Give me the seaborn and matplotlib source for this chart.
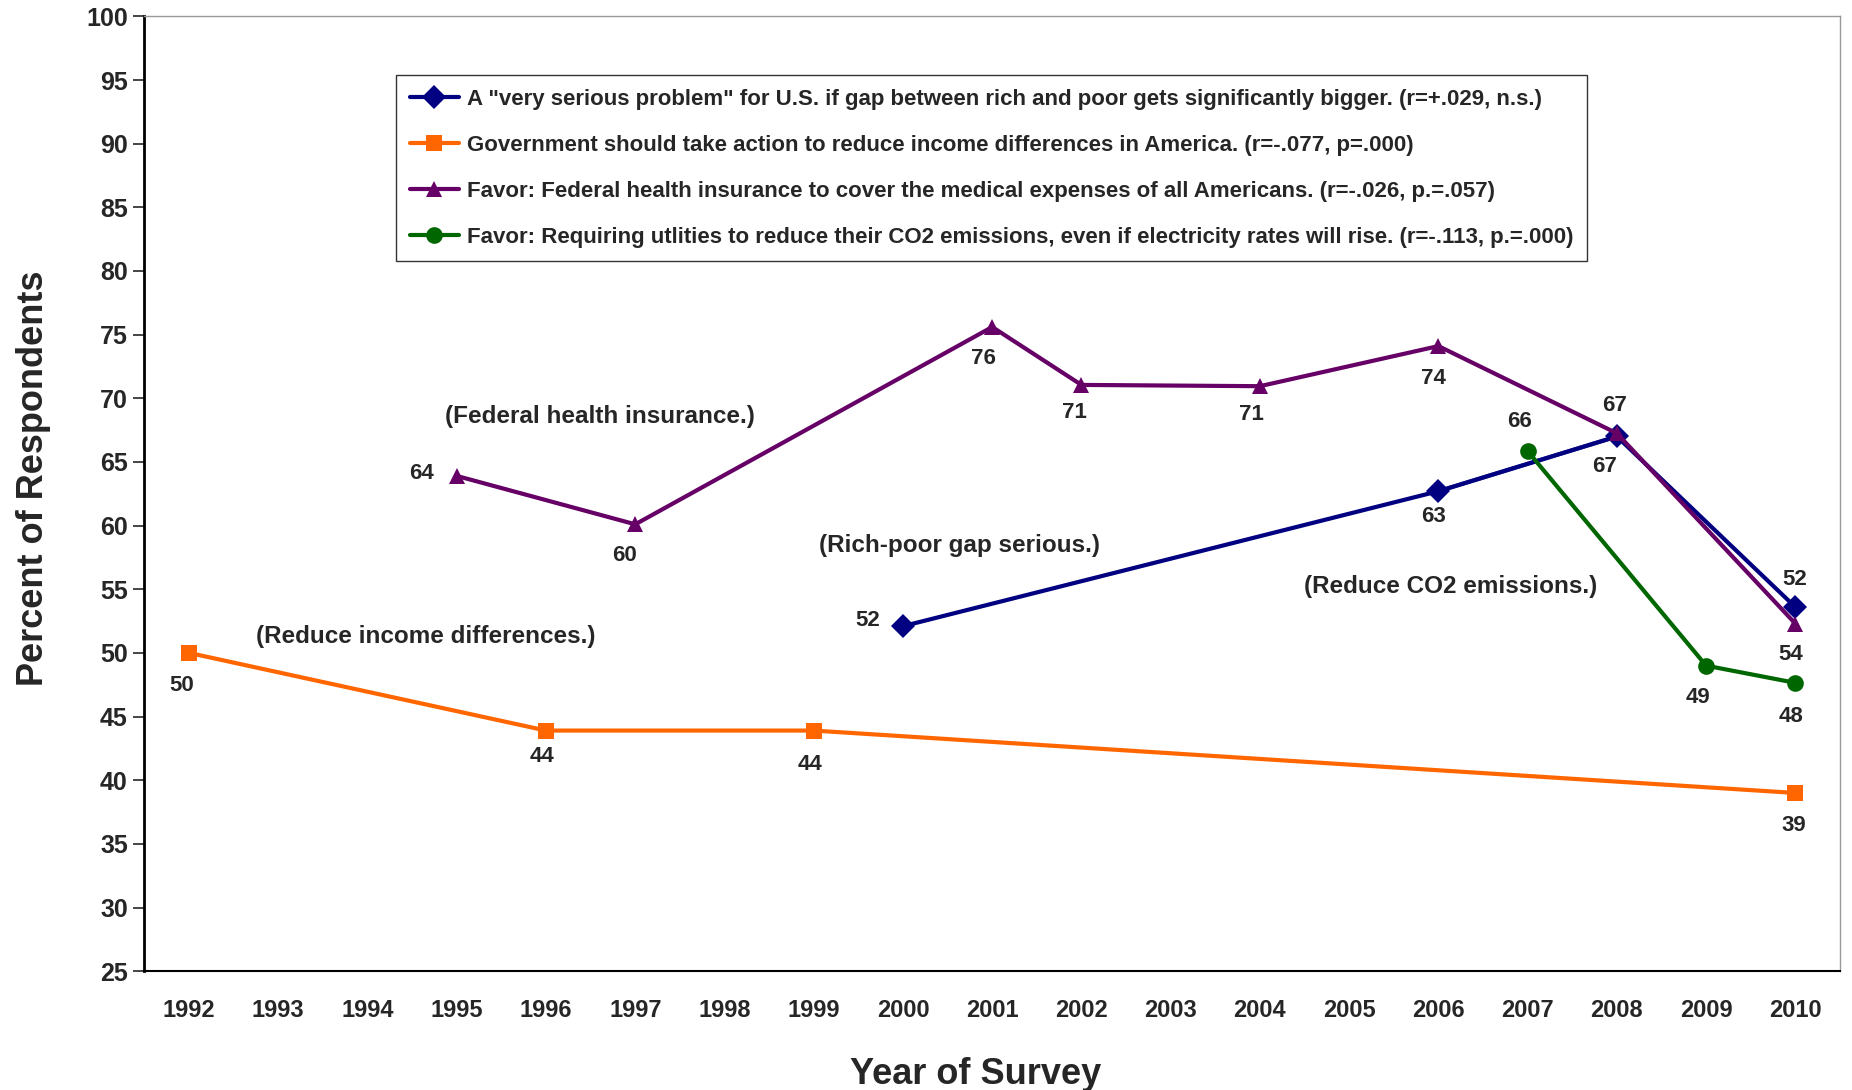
import matplotlib
matplotlib.use("Agg")
import matplotlib.pyplot as plt
import pandas as pd
import seaborn as sns

# Survey data
years = list(range(1992, 2011))

gap_years = [2000, 2006, 2008, 2010]
gap_values = [52.1, 62.7, 67.0, 53.6]
gap_labels = ["52", "63", "67", "52"]

income_years = [1992, 1996, 1999, 2010]
income_values = [50.0, 43.9, 43.9, 39.0]
income_labels = ["50", "44", "44", "39"]

health_years = [1995, 1997, 2001, 2002, 2004, 2006, 2008, 2010]
health_values = [63.9, 60.1, 75.6, 71.05, 70.95, 74.1, 67.25, 52.3]
health_labels = ["64", "60", "76", "71", "71", "74", "67", "54"]

co2_years = [2007, 2009, 2010]
co2_values = [65.85, 49.0, 47.65]
co2_labels = ["66", "49", "48"]

series_names = [
    'A "very serious problem" for U.S. if gap between rich and poor gets significantly bigger. (r=+.029, n.s.)',
    'Government should take action to reduce income differences in America. (r=-.077, p=.000)',
    'Favor: Federal health insurance to cover the medical expenses of all Americans. (r=-.026, p.=.057)',
    'Favor: Requiring utlities to reduce their CO2 emissions, even if electricity rates will rise. (r=-.113, p.=.000)',
]
colors = ["#000080", "#FF6600", "#660066", "#006600"]
markers = ["D", "s", "^", "o"]

frames = []
for name, xs, ys in zip(series_names,
                        [gap_years, income_years, health_years, co2_years],
                        [gap_values, income_values, health_values, co2_values]):
    frames.append(pd.DataFrame({"year": xs, "value": ys, "series": name}))
df = pd.concat(frames, ignore_index=True)

sns.set_style("white")
plt.rcParams["font.family"] = ["Liberation Sans", "DejaVu Sans"]
plt.rcParams["font.weight"] = "bold"

fig, ax = plt.subplots(figsize=(18.52, 10.90), dpi=100)
fig.subplots_adjust(left=0.078, right=0.9935, top=0.985, bottom=0.109)

sns.lineplot(data=df, x="year", y="value", hue="series", style="series",
             hue_order=series_names, style_order=series_names,
             palette=dict(zip(series_names, colors)),
             markers=dict(zip(series_names, markers)), dashes=False,
             linewidth=3, markersize=12, markeredgewidth=0, ax=ax)

# lighter segment of the rich-poor line between 2006 and 2008
seg = df[(df["series"] == series_names[0]) & (df["year"].isin([2006, 2008]))]
sns.lineplot(data=seg, x="year", y="value", color="#3a3a9e", linewidth=3,
             legend=False, ax=ax, zorder=1.5)

# value labels (offsets in pixels)
label_sets = [
    (gap_years, gap_values, gap_labels, [(-35, 6), (-5, -25), (-12, -30), (-1, 28)]),
    (income_years, income_values, income_labels, [(-7, -33), (-4, -26), (-4, -34), (-2, -33)]),
    (health_years, health_values, health_labels,
     [(-35, 2), (-11, -31), (-9, -32), (-7, -28), (-8, -28), (-5, -32), (-2, 28), (-5, -31)]),
    (co2_years, co2_values, co2_labels, [(-8, 30), (-8, -32), (-4, -34)]),
]
for xs, ys, labs, offs in label_sets:
    for x, y, lab, off in zip(xs, ys, labs, offs):
        ax.annotate(lab, (x, y), xytext=off, textcoords="offset pixels",
                    ha="center", va="center", fontsize=16, fontweight="bold")

# series captions
cap = dict(fontsize=17.5, fontweight="bold", va="center")
ax.text(1994.87, 68.6, "(Federal health insurance.)", **cap)
ax.text(1999.06, 58.4, "(Rich-poor gap serious.)", **cap)
ax.text(2004.49, 55.2, "(Reduce CO2 emissions.)", **cap)
ax.text(1992.75, 51.3, "(Reduce income differences.)", **cap)

ax.set_xlim(1991.5, 2010.5)
ax.set_ylim(25, 100)
ax.set_xticks(years)
ax.set_xticklabels([str(y) for y in years])
ax.set_yticks(range(25, 101, 5))
ax.tick_params(axis="x", length=0, pad=20, labelsize=17)
ax.tick_params(axis="y", direction="out", length=8, width=1.2, pad=4, labelsize=18, left=True)
for lab in ax.get_xticklabels() + ax.get_yticklabels():
    lab.set_fontweight("bold")

ax.set_xlabel("Year of Survey", fontsize=26, fontweight="bold")
ax.xaxis.set_label_coords(0.49, -0.09)
ax.set_ylabel("Percent of Respondents", fontsize=26, fontweight="bold")
ax.yaxis.set_label_coords(-0.055, 0.516)

for side in ["top", "right"]:
    ax.spines[side].set_color("#999999")
    ax.spines[side].set_linewidth(1)
ax.spines["left"].set_color("black")
ax.spines["left"].set_linewidth(2)
ax.spines["bottom"].set_color("black")
ax.spines["bottom"].set_linewidth(1.5)

leg = ax.legend(loc="upper left", bbox_to_anchor=(0.142, 0.95), fontsize=16,
                frameon=True, fancybox=False, edgecolor="black", handlelength=2.2,
                labelspacing=1.13, borderpad=0.6, handletextpad=0.4, title=None)
leg.get_frame().set_linewidth(1)
for t in leg.get_texts():
    t.set_fontweight("bold")

fig.savefig("out.png", dpi=100)
